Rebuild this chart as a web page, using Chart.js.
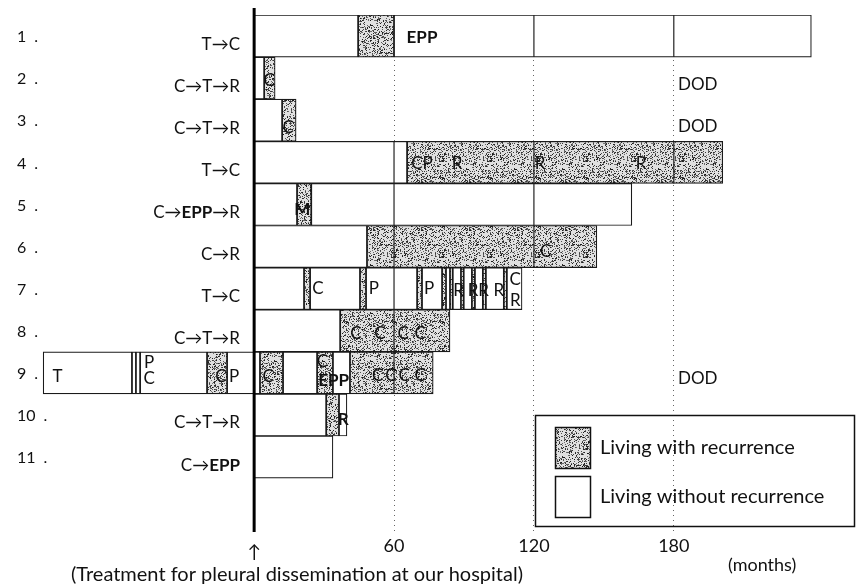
<!DOCTYPE html>
<html>
<head>
<meta charset="utf-8">
<script src="https://cdn.jsdelivr.net/npm/chart.js@4.4.1/dist/chart.umd.min.js"></script>
<style>
  html, body { margin: 0; padding: 0; background: #fff; }
</style>
</head>
<body>
<canvas id="swimmer" width="857" height="585"></canvas>
<script>
// rows, top to bottom
const rowNumbers = ['1', '2', '3', '4', '5', '6', '7', '8', '9', '10', '11'];
// treatment before our hospital, *...* = bold
const regimens = ['T→C', 'C→T→R', 'C→T→R', 'T→C', 'C→*EPP*→R', 'C→R', 'T→C', 'C→T→R', '', 'C→T→R', 'C→*EPP*'];

// [row, start month, end month]
const withRecurrence = [
  [1, 44.6, 60],
  [2, 4.3, 9],
  [3, 12, 18],
  [4, 65.6, 201],
  [5, 18.4, 24.5],
  [6, 48.4, 147],
  [7, 21.4, 24], [7, 45.4, 48], [7, 69.9, 72], [7, 80.6, 82.3], [7, 84, 85.2],
  [7, 88.7, 89.9], [7, 93.4, 94.7], [7, 98.1, 99.4], [7, 107.1, 108.4],
  [8, 36.9, 84],
  [9, -20.2, -11.6], [9, 2.5, 12.4], [9, 27, 33.8], [9, 41.1, 76.8],
  [10, 30.9, 36.4]
];
const withoutRecurrence = [
  [1, 0, 44.6], [1, 60, 239],
  [2, 0, 4.3],
  [3, 0, 12],
  [4, 0, 65.6],
  [5, 0, 18.4], [5, 24.5, 162],
  [6, 0, 48.4],
  [7, 0, 21.4], [7, 24, 45.4], [7, 48, 69.9], [7, 72, 80.6], [7, 82.3, 84],
  [7, 85.2, 88.7], [7, 89.9, 93.4], [7, 94.7, 98.1], [7, 99.4, 107.1], [7, 108.4, 114.9],
  [8, 0, 36.9],
  [9, -90.5, -52.4], [9, -52.4, -50.7], [9, -50.7, -48.9], [9, -48.9, -20.2], [9, -11.6, 0],
  [9, 0, 2.5], [9, 12.4, 27], [9, 33.8, 41.1],
  [10, 0, 30.9], [10, 36.4, 39.8],
  [11, 0, 33.8]
];

// treatment marks inside bars: [row, month, text, y shift (px), bold]
const marks = [
  [1, 72, 'EPP', 1, true],
  [2, 6.5, 'C', 2, false],
  [3, 14.6, 'C', 7, false],
  [4, 72, 'CP', 1, false], [4, 87, 'R', 1, false], [4, 122.6, 'R', 1, false], [4, 166, 'R', 1, false],
  [5, 20.6, 'M', 5, true],
  [6, 125, 'C', 5, false],
  [7, 27.4, 'C', 0, false], [7, 51.4, 'P', 0, false], [7, 75, 'P', 0, false],
  [7, 87.7, 'R', 2, false], [7, 93.9, 'R', 2, false], [7, 98.4, 'R', 2, false], [7, 105, 'R', 2, false],
  [7, 112, 'C', -9, false], [7, 112, 'R', 12, false],
  [8, 43.7, 'C', 3, false], [8, 54, 'C', 3, false], [8, 63.9, 'C', 3, false], [8, 71.2, 'C', 3, false],
  [9, -84.3, 'T', 4, false], [9, -45, 'P', -10, false], [9, -45, 'C', 6, false],
  [9, -14.2, 'C', 4, false], [9, -8.6, 'P', 4, false], [9, 6, 'C', 4, false],
  [9, 29.3, 'C', -11, false], [9, 34.1, 'EPP', 8, true],
  [9, 53, 'C', 3, false], [9, 58.7, 'C', 3, false], [9, 64.3, 'C', 3, false], [9, 71.2, 'C', 3, false],
  [10, 38.2, 'R', 5, true]
];

// died of disease
const dodRows = [2, 3, 9];
const dodMonth = 181.8;

const xTicks = [60, 120, 180];
const xMin = -100, xMax = 250;

const FONT = 'Lato, "DejaVu Sans", sans-serif';

function makeStipple() {
  const c = document.createElement('canvas');
  c.width = 48; c.height = 48;
  const g = c.getContext('2d');
  g.fillStyle = '#e0e0e0';
  g.fillRect(0, 0, 48, 48);
  let seed = 11;
  const next = () => (seed = (seed * 16807) % 2147483647) / 2147483647;
  for (let i = 0; i < 820; i++) {
    const v = Math.floor(20 + next() * 100);
    g.fillStyle = 'rgb(' + v + ',' + v + ',' + v + ')';
    g.fillRect(Math.floor(next() * 48), Math.floor(next() * 48), 1, 1);
  }
  return g.createPattern(c, 'repeat');
}
const stipple = makeStipple();

const toPoints = segs => segs.map(s => ({ x: [s[1], s[2]], y: s[0] }));

const overlay = {
  id: 'overlay',
  afterDatasetsDraw(chart) {
    const ctx = chart.ctx;
    const xs = chart.scales.x, ys = chart.scales.y;
    const area = chart.chartArea;
    ctx.save();

    // month lines run solid through the boxes
    ctx.strokeStyle = '#222';
    ctx.lineWidth = 1.2;
    chart.data.datasets.forEach((ds, di) => {
      chart.getDatasetMeta(di).data.forEach(el => {
        const p = el.getProps(['x', 'base', 'y', 'height'], true);
        const lo = Math.min(p.x, p.base), hi = Math.max(p.x, p.base);
        xTicks.forEach(t => {
          const px = xs.getPixelForValue(t);
          if (px > lo + 1 && px < hi - 1) {
            ctx.beginPath();
            ctx.moveTo(px, p.y - p.height / 2);
            ctx.lineTo(px, p.y + p.height / 2);
            ctx.stroke();
          }
        });
      });
    });

    // start of treatment at our hospital
    const x0 = xs.getPixelForValue(0);
    ctx.strokeStyle = '#000';
    ctx.lineWidth = 3;
    ctx.beginPath();
    ctx.moveTo(x0, area.top - 7);
    ctx.lineTo(x0, area.bottom);
    ctx.stroke();

    ctx.fillStyle = '#111';
    ctx.textBaseline = 'middle';

    // marks in bars
    ctx.textAlign = 'center';
    marks.forEach(m => {
      ctx.font = (m[4] ? 'bold ' : '') + '17px ' + FONT;
      ctx.fillText(m[2], xs.getPixelForValue(m[1]), ys.getPixelForValue(m[0]) + m[3]);
    });

    // row numbers and prior treatment
    rowNumbers.forEach((n, i) => {
      const y = ys.getPixelForValue(i + 1);
      ctx.font = '16px ' + FONT;
      ctx.textAlign = 'left';
      ctx.fillText(n, 17, y + 1);
      const w = ctx.measureText(n).width;
      ctx.fillText('.', 17 + w + 8, y + 1);

      const parts = regimens[i].split('*');
      let total = 0;
      parts.forEach((p, k) => {
        ctx.font = (k % 2 ? 'bold ' : '') + '17px ' + FONT;
        total += ctx.measureText(p).width;
      });
      let x = 240 - total;
      parts.forEach((p, k) => {
        ctx.font = (k % 2 ? 'bold ' : '') + '17px ' + FONT;
        ctx.fillText(p, x, y + 8);
        x += ctx.measureText(p).width;
      });
    });

    ctx.font = '17px ' + FONT;
    ctx.textAlign = 'left';
    dodRows.forEach(r => {
      ctx.fillText('DOD', xs.getPixelForValue(dodMonth), ys.getPixelForValue(r) + 6);
    });

    // bottom notes
    ctx.font = '18px ' + FONT;
    ctx.fillText('(months)', 728, 565);
    ctx.textAlign = 'center';
    ctx.fillText('↑', x0, 552);
    ctx.font = '20px ' + FONT;
    ctx.fillText('(Treatment for pleural dissemination at our hospital)', 297, 575);

    // key
    ctx.lineWidth = 1.5;
    ctx.strokeStyle = '#111';
    ctx.strokeRect(535.5, 415.5, 319, 111);
    ctx.fillStyle = stipple;
    ctx.fillRect(555, 427, 35, 41);
    ctx.strokeRect(555.5, 427.5, 35, 41);
    ctx.fillStyle = '#fff';
    ctx.fillRect(555, 476, 35, 41);
    ctx.strokeRect(555.5, 476.5, 35, 41);
    ctx.fillStyle = '#111';
    ctx.font = '20px ' + FONT;
    ctx.textAlign = 'left';
    ctx.fillText('Living with recurrence', 600, 448);
    ctx.fillText('Living without recurrence', 600, 497);

    ctx.restore();
  }
};

new Chart(document.getElementById('swimmer'), {
  type: 'bar',
  data: {
    datasets: [
      {
        label: 'Living without recurrence',
        data: toPoints(withoutRecurrence),
        backgroundColor: '#fff',
        borderColor: '#1a1a1a',
        borderWidth: 1.2,
        borderSkipped: false
      },
      {
        label: 'Living with recurrence',
        data: toPoints(withRecurrence),
        backgroundColor: stipple,
        borderColor: '#1a1a1a',
        borderWidth: 1.2,
        borderSkipped: false
      }
    ]
  },
  options: {
    indexAxis: 'y',
    responsive: false,
    animation: false,
    grouped: false,
    barPercentage: 1,
    categoryPercentage: 1,
    layout: { padding: { left: 21, right: 20, top: 15, bottom: 0 } },
    plugins: { legend: { display: false }, tooltip: { enabled: false } },
    scales: {
      x: {
        type: 'linear',
        min: xMin,
        max: xMax,
        afterBuildTicks: s => { s.ticks = xTicks.map(v => ({ value: v })); },
        afterFit: s => { s.height = 53; },
        grid: { color: '#666', lineWidth: 1, drawTicks: false },
        border: { display: false, dash: [1, 4] },
        ticks: { color: '#111', font: { family: FONT, size: 18 }, padding: 3 }
      },
      y: {
        type: 'linear',
        display: false,
        reverse: true,
        offset: false,
        min: 0.5,
        max: 0.5 + 517 / 42.1,
        afterBuildTicks: s => { s.ticks = rowNumbers.map((n, i) => ({ value: i + 1 })); }
      }
    }
  },
  plugins: [overlay]
});
</script>
</body>
</html>
